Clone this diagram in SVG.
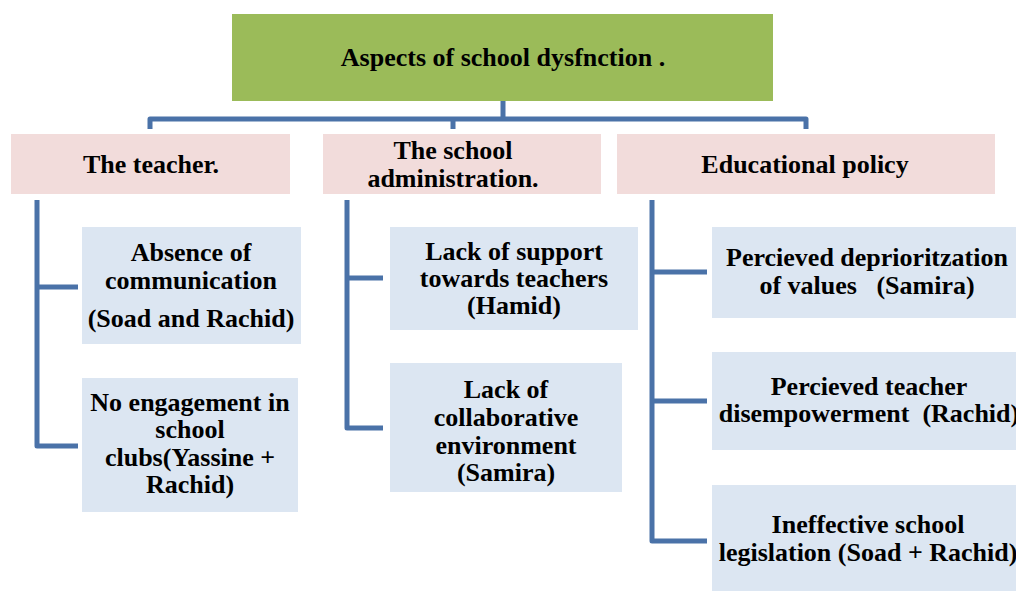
<svg xmlns="http://www.w3.org/2000/svg" width="1016" height="591" viewBox="0 0 1016 591">
<style>
text{font-family:'Liberation Serif','Times New Roman',Times,'DejaVu Serif',serif;font-weight:700;font-size:26px;fill:#000;text-anchor:middle}
.top{fill:#9BBB59}
.mid{fill:#F2DCDB}
.leaf{fill:#DCE6F2}
.con{fill:none;stroke:#4A72A8;stroke-width:5;stroke-linejoin:round}
</style>
<rect width="1016" height="591" fill="#fff"/>
<g id="connectors">
<path class="con" d="M503,101 V119 M150,129 V119 H806 V129 M453,119 V129"/>
<path class="con" d="M37,200 V446 H78 M37,287 H78"/>
<path class="con" d="M347,200 V428 H383 M347,278 H383"/>
<path class="con" d="M652,200 V541 H707 M652,272 H707 M652,401 H707"/>
</g>
<g id="root"><rect class="top" x="232" y="14" width="541" height="87"/><text x="503" y="66">Aspects of school dysfnction .</text></g>
<g id="teacher"><rect class="mid" x="11" y="134" width="279" height="60"/><text x="151" y="173">The teacher.</text></g>
<g id="administration"><rect class="mid" x="323" y="134" width="278" height="60"/><text x="453" y="159">The school</text><text x="453" y="187">administration.</text></g>
<g id="policy"><rect class="mid" x="617" y="134" width="378" height="60"/><text x="805" y="173">Educational policy</text></g>
<g id="communication"><rect class="leaf" x="82" y="227" width="219" height="117"/><text x="191" y="261">Absence of</text><text x="191" y="289">communication</text><text x="191" y="327">(Soad and Rachid)</text></g>
<g id="clubs"><rect class="leaf" x="82" y="378" width="216" height="134"/><text x="190" y="411">No engagement in</text><text x="190" y="438">school</text><text x="190" y="466">clubs(Yassine +</text><text x="190" y="493">Rachid)</text></g>
<g id="support"><rect class="leaf" x="390" y="227" width="248" height="103"/><text x="514" y="260">Lack of support</text><text x="514" y="287">towards teachers</text><text x="514" y="314">(Hamid)</text></g>
<g id="collaborative"><rect class="leaf" x="390" y="363" width="232" height="129"/><text x="506" y="398">Lack of</text><text x="506" y="426">collaborative</text><text x="506" y="454">environment</text><text x="506" y="481">(Samira)</text></g>
<g id="values"><rect class="leaf" x="712" y="227" width="312" height="91"/><text x="867" y="266">Percieved deprioritzation</text><text x="867" y="294" style="white-space:pre">of values   (Samira)</text></g>
<g id="disempowerment"><rect class="leaf" x="712" y="352" width="312" height="98"/><text x="869" y="395">Percieved teacher</text><text x="869" y="422" style="white-space:pre">disempowerment  (Rachid)</text></g>
<g id="legislation"><rect class="leaf" x="712" y="485" width="312" height="110"/><text x="868" y="533">Ineffective school</text><text x="868" y="561">legislation (Soad + Rachid)</text></g>
</svg>
